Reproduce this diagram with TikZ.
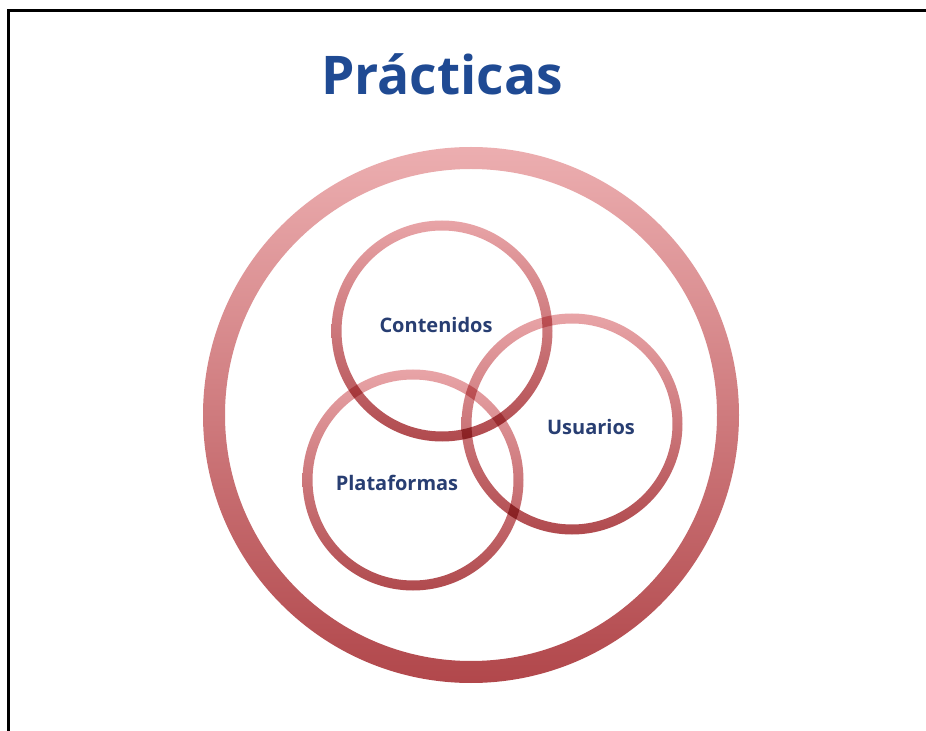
\documentclass[tikz,border=0pt]{standalone}
\usepackage{fontspec}
\setmainfont{Open Sans}
\definecolor{titleblue}{HTML}{1F4A93}
\definecolor{labelblue}{HTML}{283E72}
\definecolor{ringtop}{HTML}{ECAEB0}
\definecolor{ringbot}{HTML}{B1474B}
\definecolor{smalltop}{HTML}{E8A4A7}
\definecolor{smallbot}{HTML}{B04A4E}
\tikzset{
  outerring/.style={top color=ringtop, bottom color=ringbot, even odd rule},
  smallring/.style={top color=smalltop, bottom color=smallbot, even odd rule},
  label/.style={font=\bfseries\fontsize{15}{18}\selectfont, text=labelblue},
  titletext/.style={font=\bfseries\fontsize{40}{46}\selectfont, text=titleblue}
}
\begin{document}
\begin{tikzpicture}[x=0.75pt,y=-0.75pt]
\useasboundingbox (0,0) rectangle (926,731);
\fill[white] (0,0) rectangle (926,731);
\draw[line width=2.25pt] (8.5,731) -- (8.5,10.5) -- (926,10.5);
\coordinate (O) at (471,415);
\coordinate (C) at (442,331);
\coordinate (U) at (572,424);
\coordinate (P) at (413,480);
\shade[outerring] (O) circle (268) (O) circle (246);
\begin{scope}[blend mode=multiply]
\shade[smallring] (C) circle (110.5) (C) circle (100.5);
\shade[smallring] (U) circle (110.5) (U) circle (100.5);
\shade[smallring] (P) circle (110.5) (P) circle (100.5);
\end{scope}
\node[titletext] (title) at (442,74) {Prácticas};
\node[label] (cont) at (436,325) {Contenidos};
\node[label] (usu) at (591,427) {Usuarios};
\node[label] (plat) at (397,483) {Plataformas};
\end{tikzpicture}
\end{document}
